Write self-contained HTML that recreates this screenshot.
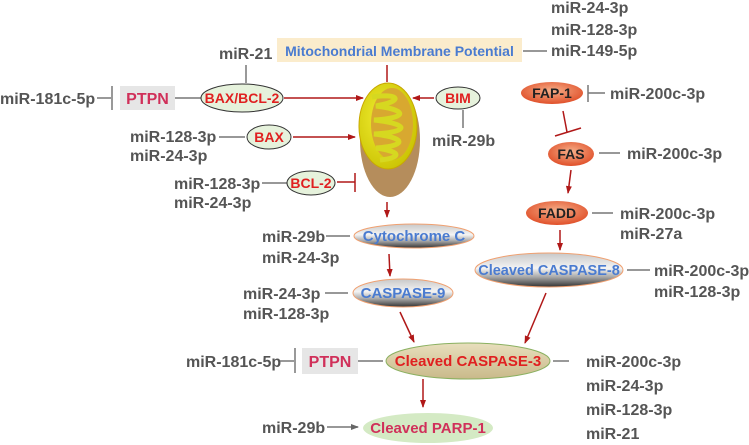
<!DOCTYPE html>
<html><head><style>body{margin:0;background:#fff}svg{display:block}</style></head><body>
<svg width="749" height="445" viewBox="0 0 749 445" xmlns="http://www.w3.org/2000/svg" font-family="Liberation Sans, Arial, sans-serif" font-weight="bold">
<defs>
<marker id="ar" markerWidth="8" markerHeight="8" refX="7" refY="4" orient="auto" markerUnits="userSpaceOnUse"><path d="M0,1 L8,4 L0,7z" fill="#b01818"/></marker>
<marker id="ag" markerWidth="8" markerHeight="8" refX="7" refY="4" orient="auto" markerUnits="userSpaceOnUse"><path d="M0,1 L8,4 L0,7z" fill="#666"/></marker>
<linearGradient id="grey" x1="0" y1="0" x2="0" y2="1"><stop offset="0" stop-color="#c8c8c8"/><stop offset="0.45" stop-color="#f4f4f4"/><stop offset="0.7" stop-color="#aaa"/><stop offset="1" stop-color="#333"/></linearGradient>
<radialGradient id="org" cx="0.5" cy="0.4" r="0.6"><stop offset="0" stop-color="#f6b08a"/><stop offset="1" stop-color="#e0502a"/></radialGradient>
<linearGradient id="tan" x1="0" y1="0" x2="0" y2="1"><stop offset="0" stop-color="#e8dfbd"/><stop offset="1" stop-color="#c9b98a"/></linearGradient>
<radialGradient id="mito" cx="0.4" cy="0.4" r="0.7"><stop offset="0" stop-color="#f0ec30"/><stop offset="1" stop-color="#c8c000"/></radialGradient>
</defs>
<g fill="#555" font-size="16">
<text x="219" y="59">miR-21</text>
<text x="551" y="13">miR-24-3p</text><text x="551" y="35">miR-128-3p</text><text x="551" y="56">miR-149-5p</text>
<text x="0" y="104">miR-181c-5p</text>
<text x="432" y="146">miR-29b</text>
<text x="130" y="142">miR-128-3p</text><text x="130" y="161">miR-24-3p</text>
<text x="174" y="189">miR-128-3p</text><text x="174" y="208">miR-24-3p</text>
<text x="610" y="99">miR-200c-3p</text>
<text x="627" y="159">miR-200c-3p</text>
<text x="620" y="219">miR-200c-3p</text><text x="620" y="239">miR-27a</text>
<text x="654" y="276">miR-200c-3p</text><text x="654" y="297">miR-128-3p</text>
<text x="262" y="242">miR-29b</text><text x="262" y="263">miR-24-3p</text>
<text x="243" y="299">miR-24-3p</text><text x="243" y="319">miR-128-3p</text>
<text x="186" y="367">miR-181c-5p</text>
<text x="586" y="367">miR-200c-3p</text><text x="586" y="391">miR-24-3p</text><text x="586" y="415">miR-128-3p</text><text x="586" y="439">miR-21</text>
<text x="262" y="433">miR-29b</text>
</g>
<g stroke="#777" stroke-width="1.5" fill="none">
<line x1="246" y1="65" x2="246" y2="83"/><line x1="523" y1="51" x2="547" y2="51"/>
<line x1="97" y1="98" x2="111" y2="98"/><line x1="112" y1="86" x2="112" y2="110"/><line x1="175" y1="98" x2="201" y2="98"/>
<line x1="463" y1="110" x2="463" y2="128"/>
<line x1="219" y1="137" x2="245" y2="137"/><line x1="262" y1="183" x2="287" y2="183"/>
<line x1="588" y1="85" x2="588" y2="102"/><line x1="588" y1="93" x2="605" y2="93"/>
<line x1="599" y1="153" x2="620" y2="153"/><line x1="592" y1="213" x2="613" y2="213"/>
<line x1="326" y1="236" x2="350" y2="236"/><line x1="325" y1="293" x2="348" y2="293"/>
<line x1="627" y1="270" x2="650" y2="270"/>
<line x1="280" y1="361" x2="294" y2="361"/><line x1="295" y1="348" x2="295" y2="373"/><line x1="358" y1="361" x2="383" y2="361"/>
<line x1="553" y1="361" x2="569" y2="361"/>
<line x1="327" y1="427" x2="358" y2="427" marker-end="url(#ag)"/>
</g>
<g stroke="#b01818" stroke-width="1.5" fill="none">
<line x1="387" y1="65" x2="387" y2="82"/>
<line x1="284" y1="98" x2="363" y2="98" marker-end="url(#ar)"/>
<line x1="434" y1="98" x2="413" y2="98" marker-end="url(#ar)"/>
<line x1="293" y1="137" x2="355" y2="137" marker-end="url(#ar)"/>
<line x1="337" y1="182" x2="355" y2="182"/><line x1="355" y1="173" x2="355" y2="192"/>
<line x1="387" y1="202" x2="387" y2="217" marker-end="url(#ar)"/>
<line x1="389" y1="254" x2="390" y2="276" marker-end="url(#ar)"/>
<line x1="400" y1="312" x2="414" y2="342" marker-end="url(#ar)"/>
<line x1="423" y1="379" x2="423" y2="407" marker-end="url(#ar)"/>
<line x1="563" y1="111" x2="567" y2="132"/><line x1="555" y1="136" x2="581" y2="128"/>
<line x1="571" y1="170" x2="568" y2="193" marker-end="url(#ar)"/>
<line x1="560" y1="230" x2="560" y2="250" marker-end="url(#ar)"/>
<line x1="546" y1="293" x2="525" y2="343" marker-end="url(#ar)"/>
</g>
<rect x="277" y="38" width="245" height="24" fill="#fbeccc"/>
<text x="399.5" y="56" text-anchor="middle" font-size="14" fill="#4a7bd0">Mitochondrial Membrane Potential</text>
<rect x="120" y="86" width="55" height="24" fill="#e6e6e6"/><text x="147.5" y="104" text-anchor="middle" font-size="16" fill="#d0305a">PTPN</text>
<rect x="302" y="348" width="56" height="26" fill="#e6e6e6"/><text x="330" y="367" text-anchor="middle" font-size="16" fill="#d0305a">PTPN</text>
<g stroke="#333" stroke-width="1" fill="#e6f2dc">
<ellipse cx="242" cy="98" rx="41" ry="14"/><ellipse cx="458" cy="98" rx="22" ry="11"/>
<ellipse cx="269" cy="137" rx="22" ry="12"/><ellipse cx="311" cy="183" rx="24" ry="12"/>
</g>
<g fill="#e02020" font-size="14" text-anchor="middle">
<text x="242" y="103">BAX/BCL-2</text><text x="458" y="103">BIM</text><text x="269" y="142">BAX</text><text x="311" y="188">BCL-2</text>
</g>
<!-- mitochondrion -->
<ellipse cx="390" cy="140" rx="30" ry="57" fill="#b58d5c"/>
<ellipse cx="388" cy="126" rx="29" ry="43" fill="url(#mito)" stroke="#c9a800"/>
<ellipse cx="392" cy="124" rx="21" ry="36" fill="#d8a830"/>
<path d="M372,97 C395,93 408,100 376,106 C408,110 408,118 374,120 C410,124 410,132 374,134 C408,138 406,146 376,148 C404,152 400,158 380,160" stroke="#d6d820" stroke-width="5" fill="none"/>
<g font-size="15" text-anchor="middle">
<ellipse cx="414" cy="236" rx="60" ry="12" fill="url(#grey)" stroke="#f0a070"/><text x="414" y="241" fill="#4a7bd0">Cytochrome C</text>
<ellipse cx="403" cy="293" rx="50" ry="14" fill="url(#grey)" stroke="#f0a070"/><text x="403" y="298" fill="#4a7bd0">CASPASE-9</text>
<ellipse cx="549" cy="270" rx="74" ry="17" fill="url(#grey)" stroke="#f0a070"/><text x="549" y="275" fill="#4a7bd0" font-size="14.5">Cleaved CASPASE-8</text>
<ellipse cx="468" cy="361" rx="82" ry="18" fill="url(#tan)" stroke="#8ab060"/><text x="468" y="366" fill="#e02020">Cleaved CASPASE-3</text>
<ellipse cx="428" cy="428" rx="65" ry="15" fill="#d4eac4"/><text x="428" y="433" fill="#d0305a">Cleaved PARP-1</text>
<ellipse cx="552" cy="93" rx="31" ry="11" fill="url(#org)"/><text x="552" y="98" fill="#222" font-size="14">FAP-1</text>
<ellipse cx="571" cy="154" rx="23" ry="12" fill="url(#org)"/><text x="571" y="159" fill="#222" font-size="14">FAS</text>
<ellipse cx="557" cy="213" rx="31" ry="12" fill="url(#org)"/><text x="557" y="218" fill="#222" font-size="14">FADD</text>
</g>
</svg>
</body></html>
